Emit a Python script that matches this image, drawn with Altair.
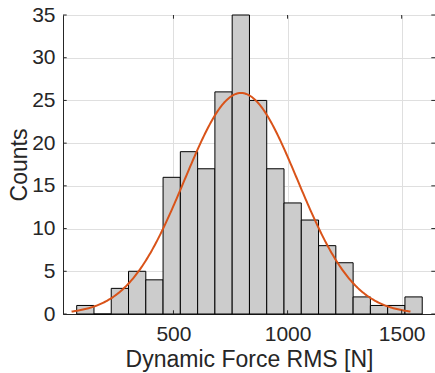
import altair as alt
import numpy as np
import pandas as pd

# Histogram of dynamic force RMS values (counts per bin)
counts = [1, 0, 3, 5, 4, 16, 19, 17, 26, 35, 25, 17, 13, 11, 8, 6, 2, 1, 1, 2]
bin_start = 76.0
bin_width = 75.7

# Normal fit parameters (histfit style curve, drawn over mu +/- 3 sigma)
fit_mu = 796.0
fit_sigma = 247.5

x_ticks = [500, 1000, 1500]
y_ticks = [0, 5, 10, 15, 20, 25, 30, 35]
x_domain = [16, 1646]
y_domain = [0, 35]

edges = bin_start + bin_width * np.arange(len(counts) + 1)
bars_df = pd.DataFrame({"lo": edges[:-1], "hi": edges[1:], "count": counts})
n_total = int(sum(counts))

W, H = 372, 299
TICK_LEN = 3.7
FONT = "Liberation Sans"
INK = "#262626"

xscale = alt.Scale(domain=x_domain, nice=False, zero=False)
yscale = alt.Scale(domain=y_domain, nice=False)

bars = alt.Chart(bars_df).mark_rect(
    fill="#cccccc", stroke="#000000", strokeWidth=1
).encode(
    x=alt.X("lo:Q", scale=xscale,
            axis=alt.Axis(values=x_ticks, format="d",
                          title="Dynamic Force RMS [N]",
                          grid=True, ticks=False, tickSize=0,
                          labelPadding=26, labelBaseline="alphabetic",
                          titleBaseline="alphabetic", titleY=52)),
    x2="hi:Q",
    y=alt.Y("count:Q", scale=yscale,
            axis=alt.Axis(values=y_ticks, format="d", title="Counts",
                          grid=True, ticks=False, tickSize=0,
                          labelPadding=8, titleBaseline="middle",
                          titleX=-44, titleY=H / 2)),
    y2=alt.datum(0),
)

curve = alt.Chart(
    alt.sequence(fit_mu - 3 * fit_sigma, fit_mu + 3 * fit_sigma + 1, 5, as_="x")
).transform_calculate(
    y=f"{n_total} * {bin_width} / ({fit_sigma} * sqrt(2 * PI)) * "
      f"exp(-0.5 * pow((datum.x - {fit_mu}) / {fit_sigma}, 2))"
).mark_line(color="#D95319", strokeWidth=2).encode(
    x=alt.X("x:Q", scale=xscale),
    y=alt.Y("y:Q", scale=yscale),
)

# Inward tick marks on all four sides of the box
xt_df = pd.DataFrame({"v": x_ticks})
yt_df = pd.DataFrame({"v": y_ticks})
tick_style = dict(color=INK, strokeWidth=1)
xt_bottom = alt.Chart(xt_df).mark_rule(**tick_style).encode(
    x=alt.X("v:Q", scale=xscale), y=alt.value(H), y2=alt.value(H - TICK_LEN))
xt_top = alt.Chart(xt_df).mark_rule(**tick_style).encode(
    x=alt.X("v:Q", scale=xscale), y=alt.value(0), y2=alt.value(TICK_LEN))
yt_left = alt.Chart(yt_df).mark_rule(**tick_style).encode(
    y=alt.Y("v:Q", scale=yscale), x=alt.value(0), x2=alt.value(TICK_LEN))
yt_right = alt.Chart(yt_df).mark_rule(**tick_style).encode(
    y=alt.Y("v:Q", scale=yscale), x=alt.value(W), x2=alt.value(W - TICK_LEN))

chart = alt.layer(bars, curve, xt_bottom, xt_top, yt_left, yt_right).properties(
    width=W, height=H,
    autosize=alt.AutoSizeParams(type="none"),
    padding={"left": 63, "top": 15, "right": 0, "bottom": 59},
    background="white",
).configure_view(
    stroke=INK, strokeWidth=1
).configure_axis(
    labelFont=FONT, titleFont=FONT,
    labelFontSize=21, titleFontSize=23,
    labelColor=INK, titleColor=INK,
    titleFontWeight="normal",
    domainColor=INK, domainWidth=1,
    gridColor="#dfdfdf", gridWidth=1,
)

chart.save("out.html", embed_options={"renderer": "svg", "actions": False})
